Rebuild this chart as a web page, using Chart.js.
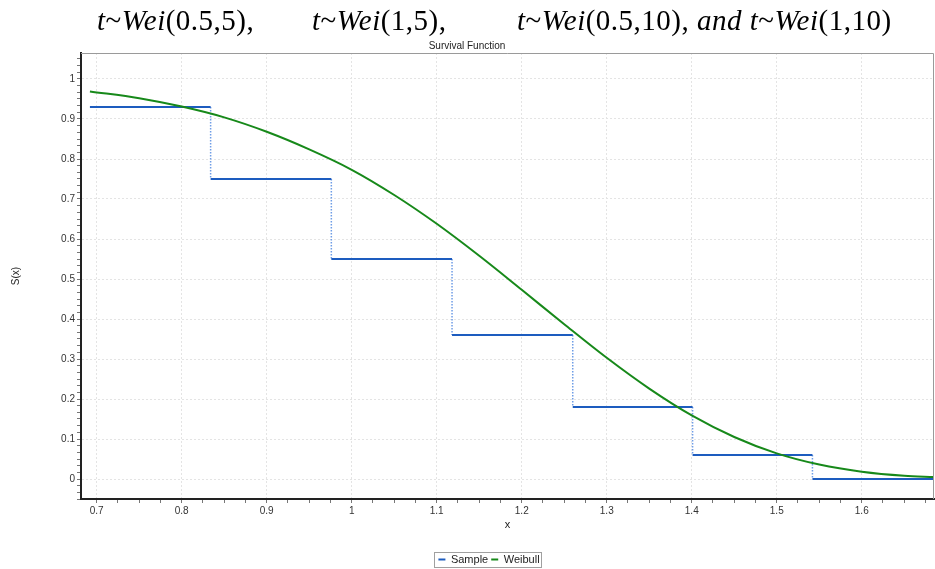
<!DOCTYPE html>
<html>
<head>
<meta charset="utf-8">
<script src="https://cdn.jsdelivr.net/npm/chart.js@4.4.1/dist/chart.umd.min.js"></script>
<style>
  html, body { margin: 0; padding: 0; background: #fff; }
  #wrap { position: relative; width: 935px; height: 569px; }
  .h { position: absolute; top: 3px; font-family: 'Liberation Serif', serif; font-size: 29px; line-height: 34px; letter-spacing: 0.5px; white-space: pre; color: #000; }
  .h i { font-style: italic; }
  canvas { position: absolute; left: 0; top: 0; }
</style>
</head>
<body>
<div id="wrap">
  <canvas id="chart" width="935" height="569"></canvas>
  <span class="h" style="left:97px"><i>t</i>~<i>Wei</i>(0.5,5),</span>
  <span class="h" style="left:312px"><i>t</i>~<i>Wei</i>(1,5),</span>
  <span class="h" style="left:517px"><i>t</i>~<i>Wei</i>(0.5,10), <i>and t</i>~<i>Wei</i>(1,10)</span>
</div>
<script>
// empirical survival steps (start of each level)
const stepX = [0.692, 0.834, 0.976, 1.118, 1.26, 1.401, 1.542, 1.685];
const stepY = [0.93, 0.75, 0.55, 0.36, 0.18, 0.06, 0, 0];

// fitted weibull curve
const weibullX = [0.692, 0.75, 0.8, 0.85, 0.9, 0.95, 1.0, 1.05, 1.1, 1.15, 1.2, 1.25,
                  1.3, 1.35, 1.4, 1.45, 1.5, 1.55, 1.6, 1.65, 1.685];
const weibullY = [0.969, 0.952, 0.931, 0.904, 0.868, 0.824, 0.773, 0.71, 0.638, 0.558, 0.473, 0.387,
                  0.303, 0.226, 0.159, 0.105, 0.064, 0.036, 0.018, 0.008, 0.005];

const seriesNames = ['Sample', 'Weibull'];
const FONT = 'Liberation Sans';

// horizontal parts of the steps, split by gaps
const flats = [];
for (let i = 0; i < stepX.length - 1; i++) {
    flats.push({x: stepX[i], y: stepY[i]}, {x: stepX[i + 1], y: stepY[i]}, {x: stepX[i + 1], y: null});
}
// vertical drops between levels
const drops = [];
for (let i = 1; i < stepX.length; i++) {
    if (stepY[i] === stepY[i - 1]) continue;
    drops.push({x: stepX[i], y: stepY[i - 1]}, {x: stepX[i], y: stepY[i]}, {x: stepX[i], y: null});
}
const curve = weibullX.map((x, i) => ({x: x, y: weibullY[i]}));

const isMajor = (v) => Math.abs(v * 10 - Math.round(v * 10)) < 1e-6;

const framePlugin = {
    id: 'frame',
    afterLayout(chart) {
        // nudge the legend a little to the right, like the original
        chart.legend.left += 22;
        chart.legend.right += 22;
    },
    afterDraw(chart) {
        const {ctx, chartArea: a} = chart;
        ctx.save();
        ctx.strokeStyle = '#9a9a9a';
        ctx.lineWidth = 1;
        ctx.beginPath();
        ctx.moveTo(a.left, a.top + 0.5);
        ctx.lineTo(a.right - 0.5, a.top + 0.5);
        ctx.lineTo(a.right - 0.5, a.bottom);
        ctx.stroke();
        // box around the legend
        const boxes = chart.legend.legendHitBoxes;
        if (boxes && boxes.length) {
            const l = Math.min(...boxes.map(b => b.left)) - 4;
            const r = Math.max(...boxes.map(b => b.left + b.width)) + 2;
            const t = Math.min(...boxes.map(b => b.top)) - 2;
            const btm = Math.max(...boxes.map(b => b.top + b.height)) + 2;
            ctx.strokeStyle = '#a0a0a0';
            ctx.strokeRect(Math.round(l) + 0.5, Math.round(t) + 0.5, Math.round(r - l), Math.round(btm - t));
        }
        ctx.restore();
    }
};

new Chart(document.getElementById('chart'), {
    type: 'line',
    data: {
        datasets: [
            {
                label: seriesNames[0],
                data: flats,
                borderColor: '#1d5cbf',
                backgroundColor: '#1d5cbf',
                borderWidth: 2,
                pointRadius: 0,
                spanGaps: false,
                order: 2
            },
            {
                label: 'drops',
                data: drops,
                borderColor: '#6f9de6',
                borderWidth: 1.5,
                borderDash: [1.5, 1.5],
                pointRadius: 0,
                spanGaps: false,
                order: 3
            },
            {
                label: seriesNames[1],
                data: curve,
                borderColor: '#17891a',
                backgroundColor: '#17891a',
                borderWidth: 2,
                pointRadius: 0,
                cubicInterpolationMode: 'monotone',
                order: 1
            }
        ]
    },
    options: {
        responsive: false,
        animation: false,
        devicePixelRatio: 1,
        layout: {padding: {top: 40, right: 1, left: 0, bottom: -6}},
        scales: {
            x: {
                type: 'linear',
                min: 0.6815,
                max: 1.685,
                afterFit(scale) { scale.height = 52; },
                ticks: {
                    stepSize: 0.025,
                    includeBounds: false,
                    autoSkip: false,
                    maxRotation: 0,
                    padding: 2,
                    color: '#333',
                    font: {family: FONT, size: 10},
                    callback: (v) => isMajor(v) ? String(Math.round(v * 10) / 10) : ''
                },
                grid: {
                    color: (c) => isMajor(c.tick.value) ? '#e4e4e4' : 'transparent',
                    tickColor: '#777',
                    tickLength: 4
                },
                border: {color: '#222', width: 2, dash: [2, 2]},
                title: {display: true, text: 'x', color: '#222', font: {family: FONT, size: 11}, padding: {top: 19, bottom: 19}}
            },
            y: {
                type: 'linear',
                min: -0.05,
                max: 1.065,
                afterFit(scale) { scale.width = 81; },
                ticks: {
                    stepSize: 1 / 60,
                    includeBounds: false,
                    autoSkip: false,
                    padding: 2,
                    color: '#333',
                    font: {family: FONT, size: 10},
                    callback: (v) => isMajor(v) ? String(Math.round(v * 10) / 10) : ''
                },
                grid: {
                    color: (c) => isMajor(c.tick.value) ? '#e4e4e4' : 'transparent',
                    tickColor: '#777',
                    tickLength: 4
                },
                border: {color: '#222', width: 2, dash: [2, 2]},
                title: {display: true, text: 'S(x)', color: '#222', font: {family: FONT, size: 10}, padding: {top: 10, bottom: 0}}
            }
        },
        plugins: {
            title: {
                display: true,
                text: 'Survival Function',
                color: '#222',
                font: {family: FONT, size: 10, weight: 'normal'},
                padding: {top: 0, bottom: 1}
            },
            legend: {
                position: 'bottom',
                labels: {
                    filter: (item) => seriesNames.includes(item.text),
                    sort: (a, b) => a.datasetIndex - b.datasetIndex,
                    usePointStyle: true,
                    pointStyle: 'line',
                    pointStyleWidth: 7,
                    boxHeight: 8,
                    padding: 3,
                    color: '#222',
                    font: {family: FONT, size: 11}
                }
            },
            tooltip: {enabled: false}
        }
    },
    plugins: [framePlugin]
});
</script>
</body>
</html>
